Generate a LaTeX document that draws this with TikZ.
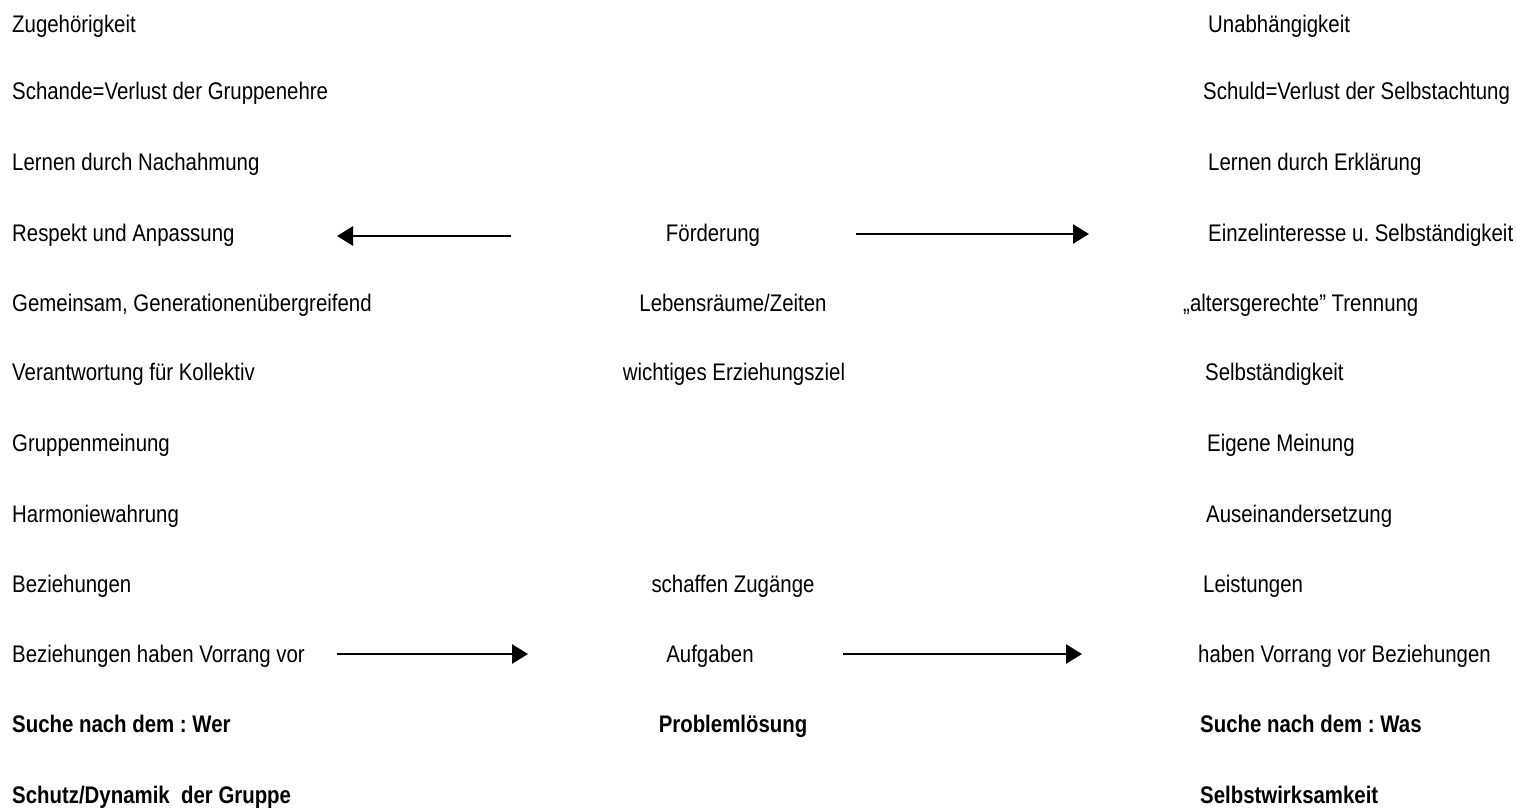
\documentclass[tikz,border=0pt]{standalone}
\usepackage{fontspec}
\setmainfont[FakeStretch=0.85]{Liberation Sans}
\usetikzlibrary{arrows.meta}
\frenchspacing
\tikzset{
  txt/.style={anchor=base west, inner sep=0pt, font=\fontsize{24}{28}\selectfont},
  mid/.style={anchor=base, inner sep=0pt, font=\fontsize{24}{28}\selectfont},
  fett/.style={font=\fontsize{24}{28}\selectfont\bfseries},
  pfeil/.style={-{Triangle[length=16pt,width=19pt]}, line width=2.8pt}
}
\begin{document}
\begin{tikzpicture}[x=1pt,y=-1pt]
        \useasboundingbox[fill=white] (0,0) rectangle (1516,810);

        % Left column
        \node[txt] (zug) at (12,33) {Zugehörigkeit};
        \node[txt] (schande) at (12,100) {Schande=Verlust der Gruppenehre};
        \node[txt] (nachahm) at (12,171) {Lernen durch Nachahmung};
        \node[txt] (respekt) at (12,242) {Respekt und Anpassung};
        \node[txt] (gemein) at (12,312) {Gemeinsam, Generationenübergreifend};
        \node[txt] (verantw) at (12,381) {Verantwortung für Kollektiv};
        \node[txt] (gruppm) at (12,451) {Gruppenmeinung};
        \node[txt] (harmonie) at (12,522) {Harmoniewahrung};
        \node[txt] (bez) at (12,592) {Beziehungen};
        \node[txt] (bezvor) at (12,662) {Beziehungen haben Vorrang vor};
        \node[txt, fett] (wer) at (12,732) {Suche nach dem : Wer};
        \node[txt, fett] (schutz) at (12,803) {Schutz/Dynamik~~der Gruppe};

        % Middle column
        \node[mid] (foerd) at (713,242) {Förderung};
        \node[mid] (lebens) at (733,312) {Lebensräume/Zeiten};
        \node[mid] (ziel) at (734,381) {wichtiges Erziehungsziel};
        \node[mid] (zugang) at (733,592) {schaffen Zugänge};
        \node[mid] (aufg) at (710,662) {Aufgaben};
        \node[mid, fett] (problem) at (733,732) {Problemlösung};

        % Right column
        \node[txt] (unab) at (1208,33) {Unabhängigkeit};
        \node[txt] (schuld) at (1203,100) {Schuld=Verlust der Selbstachtung};
        \node[txt] (erkl) at (1208,171) {Lernen durch Erklärung};
        \node[txt] (einzel) at (1208,242) {Einzelinteresse u. Selbständigkeit};
        \node[txt] (alters) at (1183,312) {„altersgerechte" Trennung};
        \node[txt] (selbst) at (1205,381) {Selbständigkeit};
        \node[txt] (eigen) at (1207,451) {Eigene Meinung};
        \node[txt] (ausein) at (1206,522) {Auseinandersetzung};
        \node[txt] (leist) at (1203,592) {Leistungen};
        \node[txt] (habenvor) at (1198,662) {haben Vorrang vor Beziehungen};
        \node[txt, fett] (was) at (1200,732) {Suche nach dem : Was};
        \node[txt, fett] (wirks) at (1200,803) {Selbstwirksamkeit};

        % Arrow ends
        \coordinate (p1s) at (511,236);
        \coordinate (p1e) at (337,236);
        \coordinate (p2s) at (856,234);
        \coordinate (p2e) at (1089,234);
        \coordinate (p3s) at (337,654);
        \coordinate (p3e) at (528,654);
        \coordinate (p4s) at (843,654);
        \coordinate (p4e) at (1082,654);

        % Arrows
        \draw[pfeil] (p1s) -- (p1e);
        \draw[pfeil] (p2s) -- (p2e);
        \draw[pfeil] (p3s) -- (p3e);
        \draw[pfeil] (p4s) -- (p4e);
\end{tikzpicture}
\end{document}
